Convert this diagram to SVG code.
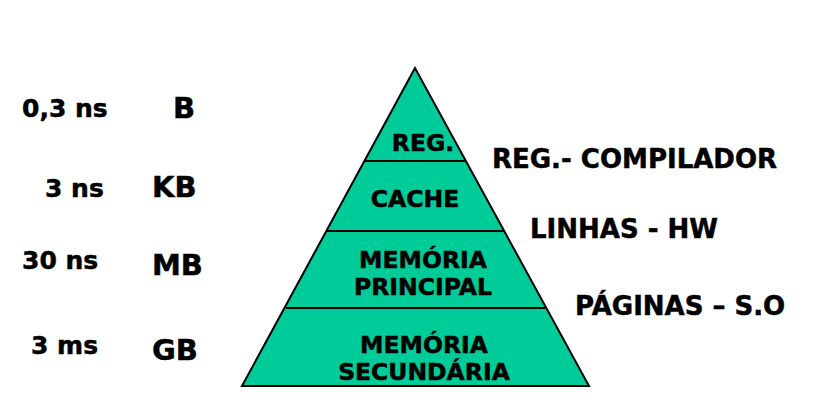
<svg xmlns="http://www.w3.org/2000/svg" width="820" height="406" viewBox="0 0 820 406">
<style>
text{font-family:"DejaVu Sans","Verdana",sans-serif;font-weight:bold;fill:#000;stroke:#000;stroke-width:0.5}
.lvl{font-size:23.5px;text-anchor:middle}
.side{font-size:25px}
.right{font-size:26px}
.unit{font-size:29px}
.tier{fill:#00CC99;stroke:none}
.edge{stroke:#000;stroke-width:2;fill:none}
</style>
<rect width="820" height="406" fill="#fff"/>
<g id="pyramid">
<polygon class="tier" points="415,68 242,386 589,386"/>
</g>
<g id="connectors">
<line class="edge" x1="365" y1="161" x2="466" y2="161"/>
<line class="edge" x1="327" y1="231" x2="504" y2="231"/>
<line class="edge" x1="286" y1="308" x2="545" y2="308"/>
<polygon class="edge" points="415,68 242,386 589,386"/>
</g>
<g id="reg"><text class="lvl" x="423" y="151">REG.</text></g>
<g id="cache"><text class="lvl" x="415" y="207">CACHE</text></g>
<g id="principal"><text class="lvl" x="423" y="268">MEMÓRIA</text><text class="lvl" x="423" y="295">PRINCIPAL</text></g>
<g id="secundaria"><text class="lvl" x="424" y="353">MEMÓRIA</text><text class="lvl" x="424" y="380">SECUNDÁRIA</text></g>
<g id="left-labels">
<text class="side" x="22" y="117">0,3 ns</text>
<text class="side" x="45" y="197">3 ns</text>
<text class="side" x="22" y="269">30 ns</text>
<text class="side" x="31" y="354">3 ms</text>
<text class="unit" x="173" y="118">B</text>
<text class="unit" x="152" y="197">KB</text>
<text class="unit" x="152" y="275">MB</text>
<text class="unit" x="152" y="360">GB</text>
</g>
<g id="right-labels">
<text class="right" x="492" y="168">REG.- COMPILADOR</text>
<text class="right" x="530" y="238">LINHAS - HW</text>
<text class="right" x="575" y="315">PÁGINAS – S.O</text>
</g>
</svg>
